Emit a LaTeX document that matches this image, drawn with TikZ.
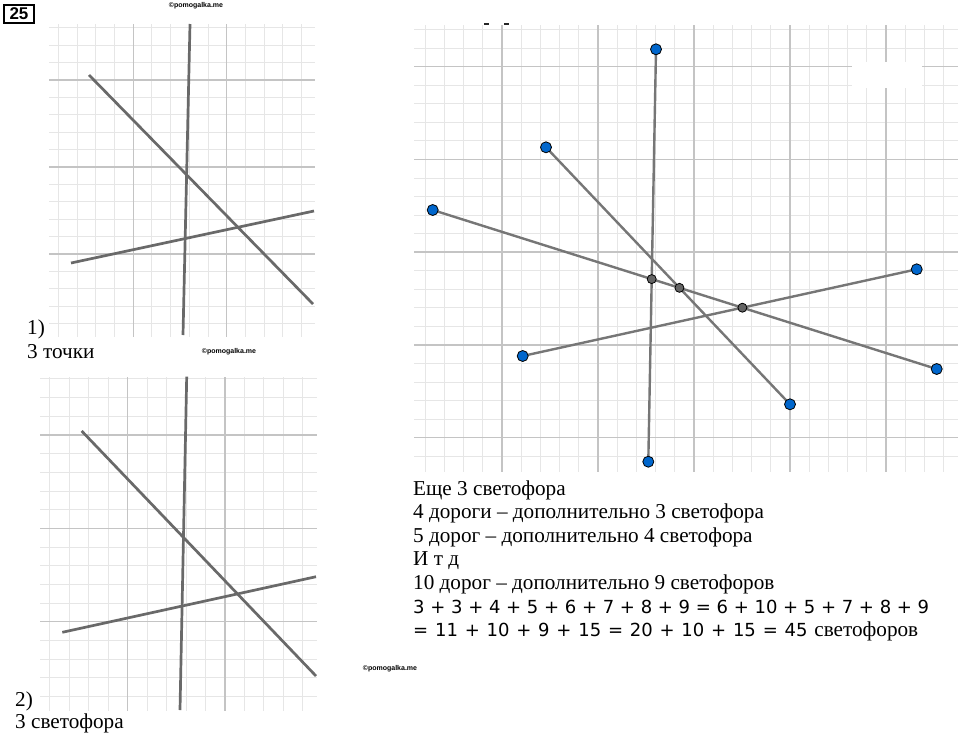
\documentclass[tikz,border=0pt]{standalone}
\usepackage{fontspec}
\setmainfont{Liberation Serif}
\newfontfamily\rmru{Liberation Serif}
\newfontfamily\eqfont{DejaVu Sans}
\newfontfamily\wmfont{Liberation Sans}
\definecolor{gmaj}{RGB}{196,196,196}
\definecolor{gmin}{RGB}{230,230,230}
\definecolor{road}{RGB}{105,105,105}
\definecolor{roadr}{RGB}{118,118,118}
\definecolor{dotblue}{RGB}{0,102,204}
\definecolor{dotgray}{RGB}{100,100,100}
\tikzset{
  minorline/.style={gmin, line width=1pt},
  majorline/.style={gmaj, line width=1.5pt},
  roadline/.style={road, line width=2.7pt},
  roadthin/.style={roadr, line width=2.4pt},
  enddot/.style={circle, draw=black, line width=0.8pt, fill=dotblue, minimum size=11pt, inner sep=0pt},
  crossdot/.style={circle, draw=black, line width=0.8pt, fill=dotgray, minimum size=9pt, inner sep=0pt},
  txt/.style={anchor=base west, inner sep=0pt, font=\rmru\fontsize{21.2}{24}\selectfont},
  wm/.style={inner sep=0pt, font=\wmfont\bfseries\fontsize{7}{8}\selectfont},
  numbox/.style={draw, line width=2pt, inner sep=0pt, minimum width=30pt, minimum height=18pt, font=\wmfont\bfseries\fontsize{17}{17}\selectfont}
}
\begin{document}
\begin{tikzpicture}[x=1pt,y=-1pt]
\fill[white] (0,0) rectangle (960,739);
\useasboundingbox (0,0) rectangle (960,739);

% ---------- panel 1 grid ----------
\begin{scope}
  \clip (49,24) rectangle (315,337);
  \foreach \k in {-5,...,10} \draw[minorline] ({133.3+18.68*\k},24) -- ({133.3+18.68*\k},337);
  \foreach \k in {-4,...,15} \draw[minorline] (49,{80+17.4*\k}) -- (315,{80+17.4*\k});
  \foreach \k in {0,1} \draw[majorline] ({133.3+93.4*\k},24) -- ({133.3+93.4*\k},337);
  \foreach \k in {0,1,2} \draw[majorline] (49,{80+87*\k}) -- (315,{80+87*\k});
\end{scope}
\coordinate (p1a) at (190,24);
\coordinate (p1b) at (183,335);
\coordinate (p1c) at (89,75);
\coordinate (p1d) at (313,304);
\coordinate (p1e) at (71,263);
\coordinate (p1f) at (314,211);
\draw[roadline] (p1a) -- (p1b);
\draw[roadline] (p1c) -- (p1d);
\draw[roadline] (p1e) -- (p1f);

% ---------- panel 2 grid ----------
\begin{scope}
  \clip (40,377) rectangle (317,711);
  \foreach \k in {-5,...,10} \draw[minorline] ({127.7+19.46*\k},377) -- ({127.7+19.46*\k},711);
  \foreach \k in {-4,...,15} \draw[minorline] (40,{435+18.67*\k}) -- (317,{435+18.67*\k});
  \foreach \k in {0,1} \draw[majorline] ({127.7+97.3*\k},377) -- ({127.7+97.3*\k},711);
  \foreach \k in {0,1,2} \draw[majorline] (40,{435+93.35*\k}) -- (317,{435+93.35*\k});
\end{scope}
\coordinate (p2a) at (186.7,376.7);
\coordinate (p2b) at (180,710);
\coordinate (p2c) at (81.7,431);
\coordinate (p2d) at (316,676);
\coordinate (p2e) at (62.3,632.3);
\coordinate (p2f) at (316,576.7);
\draw[roadline] (p2a) -- (p2b);
\draw[roadline] (p2c) -- (p2d);
\draw[roadline] (p2e) -- (p2f);

% ---------- panel 3 grid ----------
\begin{scope}
  \clip (414,25) rectangle (958,472);
  \foreach \k in {-5,...,24} \draw[minorline] ({502+19.2*\k},25) -- ({502+19.2*\k},472);
  \foreach \k in {-3,...,22} \draw[minorline] (414,{66.7+18.55*\k}) -- (958,{66.7+18.55*\k});
  \foreach \k in {0,...,4} \draw[majorline] ({502+96*\k},25) -- ({502+96*\k},472);
  \foreach \k in {0,...,4} \draw[majorline] (414,{66.7+92.75*\k}) -- (958,{66.7+92.75*\k});
\end{scope}
\fill[white] (852,62) rectangle (922,88);
\fill[black!85] (484,22.5) rectangle (489,24.5);
\fill[black!85] (504,22.5) rectangle (509,24.5);

\coordinate (T) at (656,49.3);
\coordinate (B) at (648.3,461.7);
\coordinate (D1) at (546,147.3);
\coordinate (D2) at (790,404.3);
\coordinate (L) at (432.7,210);
\coordinate (R) at (936.7,369);
\coordinate (S1) at (522.7,356);
\coordinate (S2) at (916.7,269.3);
\draw[roadthin] (T) -- (B);
\draw[roadthin] (D1) -- (D2);
\draw[roadthin] (L) -- (R);
\draw[roadthin] (S1) -- (S2);
\coordinate (X1) at (intersection of L--R and T--B);
\coordinate (X2) at (intersection of L--R and D1--D2);
\coordinate (X3) at (intersection of L--R and S1--S2);
\node[crossdot] (g1) at (X1) {};
\node[crossdot] (g2) at (X2) {};
\node[crossdot] (g3) at (X3) {};
\node[enddot] (dT) at (T) {};
\node[enddot] (dB) at (B) {};
\node[enddot] (dD1) at (D1) {};
\node[enddot] (dD2) at (D2) {};
\node[enddot] (dL) at (L) {};
\node[enddot] (dR) at (R) {};
\node[enddot] (dS1) at (S1) {};
\node[enddot] (dS2) at (S2) {};

% ---------- labels ----------
\node[numbox] (num) at (19,14) {25};
\node[wm] (w1) at (196,6) {©pomogalka.me};
\node[wm] (w2) at (229,352) {©pomogalka.me};
\node[wm] (w3) at (390,669) {©pomogalka.me};

\node[txt] (n1) at (27,334) {1)};
\node[txt] (n1b) at (27,358.5) {3 точки};
\node[txt] (n2) at (15,706) {2)};
\node[txt] (n2b) at (15,728) {3 светофора};

\node[txt] (r1) at (413,495) {Еще 3 светофора};
\node[txt] (r2) at (413,518.6) {4 дороги – дополнительно 3 светофора};
\node[txt] (r3) at (413,542.2) {5 дорог – дополнительно 4 светофора};
\node[txt] (r4) at (413,565.8) {И т д};
\node[txt] (r5) at (413,589.4) {10 дорог – дополнительно 9 светофоров};
\node[txt] (r6) at (413,613) {\eqfont\fontsize{18}{22}\selectfont\makebox[516pt][s]{3 + 3 + 4 + 5 + 6 + 7 + 8 + 9 = 6 + 10 + 5 + 7 + 8 + 9}};
\node[txt] (r7) at (413,636.6) {\eqfont\fontsize{18}{22}\selectfont\makebox[505pt][s]{= 11 + 10 + 9 + 15 = 20 + 10 + 15 = 45 {\rmru\fontsize{21.2}{24}\selectfont светофоров}}};
\end{tikzpicture}
\end{document}
